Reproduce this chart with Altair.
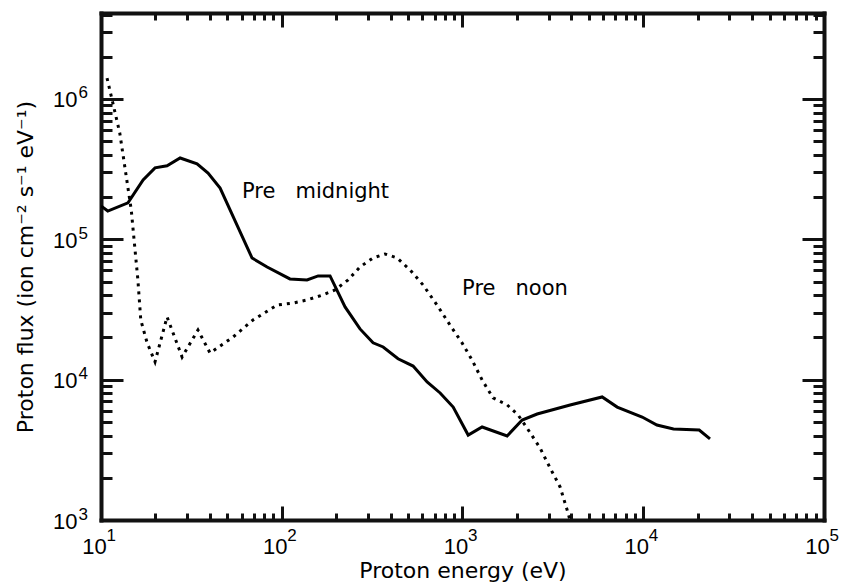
import altair as alt
import pandas as pd

# ---- data ----
mid_E = [10, 10.9, 14.1, 17.1, 19.9, 23.2, 27.4, 34.0, 39.1, 45.6,
         68.5, 83.0, 111, 138, 159, 185, 224, 271, 320, 364,
         440, 533, 637, 752, 888, 1075, 1284, 1766, 2138, 2588,
         3939, 5925, 7175, 9862, 11900, 14700, 20400, 23400]
mid_F = [1.73e5, 1.59e5, 1.82e5, 2.65e5, 3.23e5, 3.34e5, 3.80e5, 3.45e5, 2.97e5, 2.32e5,
         7.36e4, 6.35e4, 5.22e4, 5.14e4, 5.49e4, 5.49e4, 3.30e4, 2.30e4, 1.83e4, 1.71e4,
         1.41e4, 1.25e4, 9.64e3, 8.04e3, 6.38e3, 4.03e3, 4.60e3, 3.97e3, 5.16e3, 5.69e3,
         6.60e3, 7.53e3, 6.38e3, 5.42e3, 4.75e3, 4.45e3, 4.38e3, 3.78e3]

noon_E = [10.8, 12.7, 14.7, 16.0, 16.6, 18.0, 19.9, 23.2, 28.1, 34.4,
          40.1, 53.7, 69.3, 94.1, 116, 138, 169, 197, 233, 271,
          320, 373, 435, 513, 605, 723, 853, 994, 1130, 1284,
          1476, 1766, 2031, 2276, 2686, 3052, 3467, 3839, 4198]
noon_F = [1.41e6, 5.73e5, 1.62e5, 5.13e4, 2.66e4, 1.83e4, 1.34e4, 2.80e4, 1.45e4, 2.26e4,
          1.55e4, 2.01e4, 2.66e4, 3.40e4, 3.52e4, 3.70e4, 4.02e4, 4.36e4, 5.14e4, 6.36e4,
          7.37e4, 7.86e4, 7.37e4, 6.05e4, 4.73e4, 3.40e4, 2.45e4, 1.83e4, 1.38e4, 9.95e3,
          7.41e3, 6.61e3, 5.60e3, 4.52e3, 3.26e3, 2.35e3, 1.72e3, 1.12e3, 720]

note_text = ["Pre\u00a0\u00a0\u00a0midnight", "Pre\u00a0\u00a0\u00a0noon"]
note_E = [60.3, 995]
note_F = [2.17e5, 4.43e4]

x_major = [10, 100, 1000, 10000, 100000]
y_major = [1000, 10000, 100000, 1000000]
x_minor = [m * 10 ** k for k in range(1, 5) for m in range(2, 10)]
y_minor = [m * 10 ** k for k in range(3, 7) for m in range(2, 10) if m * 10 ** k <= 4.1e6]

df_mid = pd.DataFrame({"E": mid_E, "F": mid_F})
df_noon = pd.DataFrame({"E": noon_E, "F": noon_F})
df_note = pd.DataFrame({"E": note_E, "F": note_F, "label": note_text})

W, H = 723, 507
xscale = alt.Scale(type="log", domain=[10, 100000], nice=False)
yscale = alt.Scale(type="log", domain=[1000, 4.1e6], nice=False)

INK = "#111111"
label_font = "Liberation Sans"
title_font = "DejaVu Sans"
exp_expr = "'' + round(log(datum.value)/LN10)"


def tick_axis(orient, offset, values, size, domain):
    kw = dict(orient=orient, offset=offset, values=values, labels=False, grid=False,
              title=None, tickColor=INK, tickOpacity=1, tickWidth=3, tickSize=size,
              domain=domain)
    if domain:
        kw.update(domainColor=INK, domainOpacity=1, domainWidth=4, domainCap="square")
    return alt.Axis(**kw)


def label_axis(orient, values, expr, size, padding, offset, align, baseline, **extra):
    return alt.Axis(orient=orient, values=values, labelExpr=expr, ticks=False,
                    domain=False, grid=False, labelFont=label_font, labelFontSize=size,
                    labelColor="black", labelPadding=padding, labelOffset=offset,
                    labelAlign=align, labelBaseline=baseline, labelFlush=False,
                    labelOverlap=False, **extra)


x_title = dict(title="Proton energy (eV)", titleFont=title_font, titleFontSize=22,
               titleFontWeight="normal", titleColor="black", titleY=57,
               titleBaseline="alphabetic")
y_title = dict(title="Proton flux (ion cm\u207b\u00b2 s\u207b\u00b9 eV\u207b\u00b9)",
               titleFont=title_font, titleFontSize=22, titleFontWeight="normal",
               titleColor="black", titleX=-76, titleBaseline="middle")

# layer 1: solid curve + "10" part of the tick labels + axis titles
solid = alt.Chart(df_mid).mark_line(color="black", strokeWidth=3, clip=True).encode(
    x=alt.X("E:Q", scale=xscale,
            axis=label_axis("bottom", x_major, "'10'", 22, 16, -7, "center", "top", **x_title)),
    y=alt.Y("F:Q", scale=yscale,
            axis=label_axis("left", y_major, "'10'", 22, 24, 1, "right", "middle", **y_title)),
)

# layer 2: dotted curve + exponent part of the tick labels
dotted = alt.Chart(df_noon).mark_line(color="black", strokeWidth=3, strokeDash=[3, 5],
                                      clip=True).encode(
    x=alt.X("E:Q", scale=xscale,
            axis=label_axis("bottom", x_major, exp_expr, 17, 7, 5, "left", "top", title=None)),
    y=alt.Y("F:Q", scale=yscale,
            axis=label_axis("left", y_major, exp_expr, 17, 23, -6, "left", "middle", title=None)),
)

# layer 3: annotations + inward major ticks on bottom and left edges
notes = alt.Chart(df_note).mark_text(align="left", baseline="middle", font=title_font,
                                     fontSize=21, color="black").encode(
    x=alt.X("E:Q", scale=xscale, axis=tick_axis("top", -H, x_major, 14, True)),
    y=alt.Y("F:Q", scale=yscale, axis=tick_axis("right", -W, y_major, 22, True)),
    text="label:N",
)

# layers 4-6: invisible helpers carrying the remaining inward tick sets
ghost_minor_bl = alt.Chart(df_mid).mark_point(opacity=0).encode(
    x=alt.X("E:Q", scale=xscale, axis=tick_axis("top", -H, x_minor, 7, False)),
    y=alt.Y("F:Q", scale=yscale, axis=tick_axis("right", -W, y_minor, 11, False)),
)
ghost_major_tr = alt.Chart(df_mid).mark_point(opacity=0).encode(
    x=alt.X("E:Q", scale=xscale, axis=tick_axis("bottom", -H, x_major, 14, True)),
    y=alt.Y("F:Q", scale=yscale, axis=tick_axis("left", -W, y_major, 22, True)),
)
ghost_minor_tr = alt.Chart(df_mid).mark_point(opacity=0).encode(
    x=alt.X("E:Q", scale=xscale, axis=tick_axis("bottom", -H, x_minor, 7, False)),
    y=alt.Y("F:Q", scale=yscale, axis=tick_axis("left", -W, y_minor, 11, False)),
)

chart = alt.layer(
    solid, dotted, notes, ghost_minor_bl, ghost_major_tr, ghost_minor_tr
).resolve_axis(
    x="independent", y="independent"
).properties(
    width=W, height=H,
    autosize=alt.AutoSizeParams(type="none"),
    padding={"left": 101, "top": 13, "right": 21, "bottom": 66},
    background="white",
).configure_view(stroke="transparent")

chart.save("out.html", embed_options={"renderer": "svg", "actions": False})
